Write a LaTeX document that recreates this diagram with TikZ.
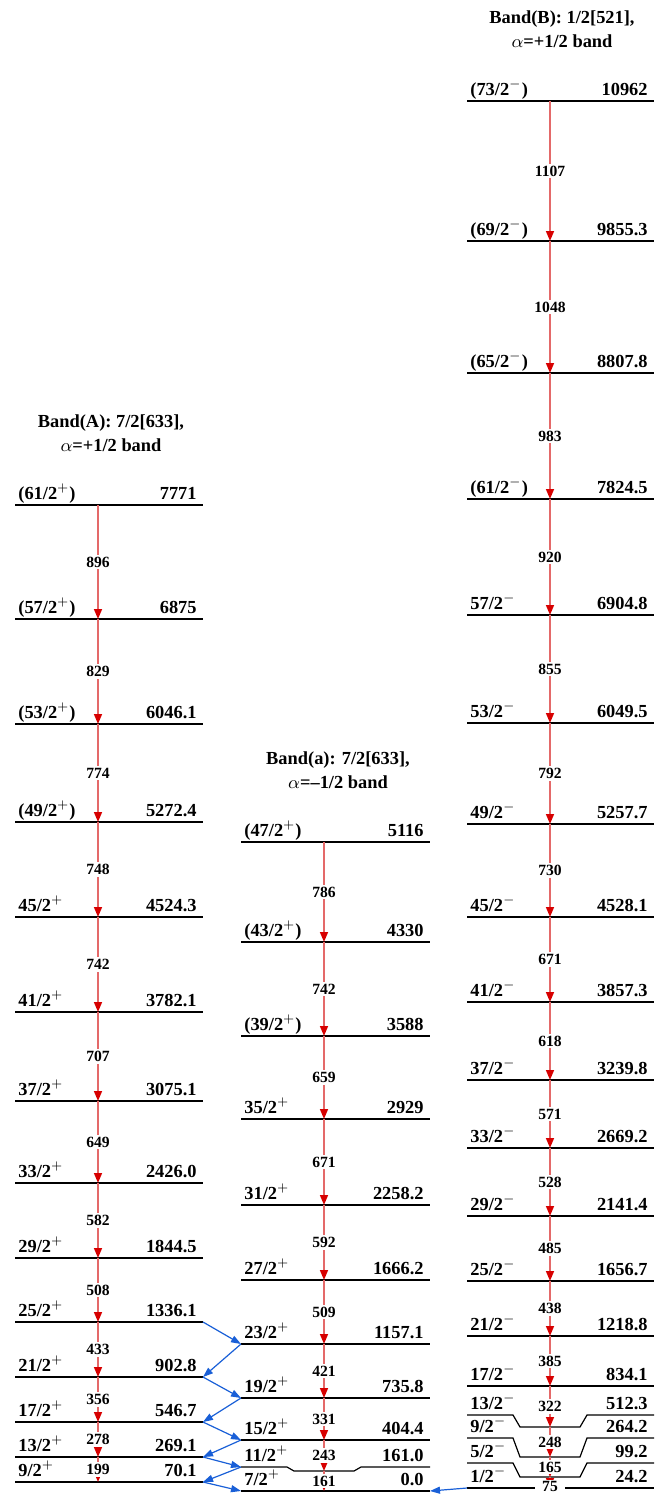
\documentclass[tikz,border=0pt]{standalone}
\usepackage{fontspec}
\setmainfont{Liberation Serif}
\usetikzlibrary{arrows.meta}

\definecolor{gamline}{RGB}{228,105,105}
\definecolor{gamtip}{RGB}{215,0,0}
\definecolor{linkblue}{RGB}{25,95,215}

\begin{document}
\begin{tikzpicture}[x=0.5pt, y=-0.5pt,
    lvl/.style={line width=0.6pt},
    spin/.style={anchor=base west, inner sep=0pt, font=\fontsize{9.2}{11}\selectfont\bfseries},
    ener/.style={anchor=base east, inner sep=0pt, font=\fontsize{9.2}{11}\selectfont\bfseries},
    gam/.style={draw=gamline, line width=0.8pt, -{Triangle[length=5pt,width=4pt,color=gamtip]}},
    glab/.style={fill=white, inner xsep=3.5pt, inner ysep=1pt, font=\fontsize{7.8}{9}\selectfont\bfseries},
    link/.style={draw=linkblue, line width=0.6pt, -{Triangle[length=5pt,width=3.5pt]}},
    title/.style={align=center, inner sep=0pt, font=\fontsize{9.2}{12}\selectfont\bfseries}]

  \useasboundingbox (0,0) rectangle (654,1495);

  % band titles
  \node[title] (titA) at (111,433.5) {Band(A): 7/2[633],\\$\alpha$=+1/2 band};
  \node[title] (tita) at (338,770) {Band(a): 7/2[633],\\$\alpha$=--1/2 band};
  \node[title] (titB) at (562,29) {Band(B): 1/2[521],\\$\alpha$=+1/2 band};

  % band A levels
  \foreach \j/\ly/\my/\pp/\en in {61/505/505/1/7771, 57/619/619/1/6875, 53/724/724/1/6046.1,
      49/822/822/1/5272.4, 45/917/917/0/4524.3, 41/1012/1012/0/3782.1, 37/1101/1101/0/3075.1,
      33/1183/1183/0/2426.0, 29/1258/1258/0/1844.5, 25/1322/1322/0/1336.1, 21/1377/1377/0/902.8,
      17/1422/1422/0/546.7, 13/1457/1457/0/269.1, 9/1482/1482/0/70.1} {
    \coordinate (A-\j-l) at (15,\ly);
    \coordinate (A-\j-r) at (203,\ly);
    \coordinate (A-\j) at (98,\my);
    \draw[lvl] (A-\j-l) -- (61,\ly) -- (68,\my) -- (128,\my) -- (135,\ly) -- (A-\j-r);
    \node[spin] (A-\j-s) at (18,\ly-5.5) {\ifnum\pp=1 (\j/2$^{+}$)\else\j/2$^{+}$\fi};
    \node[ener] (A-\j-e) at (197,\ly-5.5) {\en};
  }

  % band a levels
  \foreach \j/\ly/\my/\pp/\en/\lw in {47/842/842/1/5116/0.6, 43/942/942/1/4330/0.6,
      39/1036/1036/1/3588/0.6, 35/1119/1119/0/2929/0.6, 31/1205/1205/0/2258.2/0.6,
      27/1280/1280/0/1666.2/0.6, 23/1344/1344/0/1157.1/0.6, 19/1398/1398/0/735.8/0.6,
      15/1440/1440/0/404.4/0.6, 11/1467/1471/0/161.0/0.6, 7/1491/1491/0/0.0/1.0} {
    \coordinate (a-\j-l) at (241,\ly);
    \coordinate (a-\j-r) at (430,\ly);
    \coordinate (a-\j) at (324,\my);
    \draw[line width=\lw pt] (a-\j-l) -- (287,\ly) -- (294,\my) -- (354,\my) -- (361,\ly) -- (a-\j-r);
    \node[spin] (a-\j-s) at (244,\ly-5.5) {\ifnum\pp=1 (\j/2$^{+}$)\else\j/2$^{+}$\fi};
    \node[ener] (a-\j-e) at (424,\ly-5.5) {\en};
  }

  % band B levels
  \foreach \j/\ly/\my/\pp/\en in {73/101/101/1/10962, 69/241/241/1/9855.3, 65/373/373/1/8807.8,
      61/499/499/1/7824.5, 57/615/615/0/6904.8, 53/723/723/0/6049.5, 49/824/824/0/5257.7,
      45/917/917/0/4528.1, 41/1002/1002/0/3857.3, 37/1080/1080/0/3239.8, 33/1148/1148/0/2669.2,
      29/1216/1216/0/2141.4, 25/1281/1281/0/1656.7, 21/1336/1336/0/1218.8, 17/1386/1386/0/834.1,
      13/1415/1427/0/512.3, 9/1438/1457/0/264.2, 5/1463/1477/0/99.2, 1/1488/1488/0/24.2} {
    \coordinate (B-\j-l) at (467,\ly);
    \coordinate (B-\j-r) at (654,\ly);
    \coordinate (B-\j) at (550,\my);
    \draw[lvl] (B-\j-l) -- (513,\ly) -- (520,\my) -- (580,\my) -- (587,\ly) -- (B-\j-r);
    \node[spin] (B-\j-s) at (470,\ly-5.5) {\ifnum\pp=1 (\j/2$^{-}$)\else\j/2$^{-}$\fi};
    \node[ener] (B-\j-e) at (648,\ly-5.5) {\en};
  }

  % in-band gammas
  \foreach \i/\f/\g in {61/57/896, 57/53/829, 53/49/774, 49/45/748, 45/41/742, 41/37/707,
      37/33/649, 33/29/582, 29/25/508, 25/21/433, 21/17/356, 17/13/278, 13/9/199}
    \draw[gam] (A-\i) -- node[glab] {\g} (A-\f);
  \foreach \i/\f/\g in {47/43/786, 43/39/742, 39/35/659, 35/31/671, 31/27/592, 27/23/509,
      23/19/421, 19/15/331, 15/11/243, 11/7/161}
    \draw[gam] (a-\i) -- node[glab] {\g} (a-\f);
  \foreach \i/\f/\g in {73/69/1107, 69/65/1048, 65/61/983, 61/57/920, 57/53/855, 53/49/792,
      49/45/730, 45/41/671, 41/37/618, 37/33/571, 33/29/528, 29/25/485, 25/21/438,
      21/17/385, 17/13/322, 13/9/248, 9/5/165}
    \draw[gam] (B-\i) -- node[glab] {\g} (B-\f);
  \draw[gam] (B-5) -- node[glab, pos=0.9] {75} (B-1);

  % links between signature partners
  \draw[link] (A-25-r) -- (a-23-l);
  \draw[link] (a-23-l) -- (A-21-r);
  \draw[link] (A-21-r) -- (a-19-l);
  \draw[link] (a-19-l) -- (A-17-r);
  \draw[link] (A-17-r) -- (a-15-l);
  \draw[link] (a-15-l) -- (A-13-r);
  \draw[link] (A-13-r) -- (a-11-l);
  \draw[link] (a-11-l) -- (A-9-r);
  \draw[link] (A-9-r) -- (a-7-l);
  \draw[link] (B-1-l) -- (a-7-r);
\end{tikzpicture}
\end{document}
